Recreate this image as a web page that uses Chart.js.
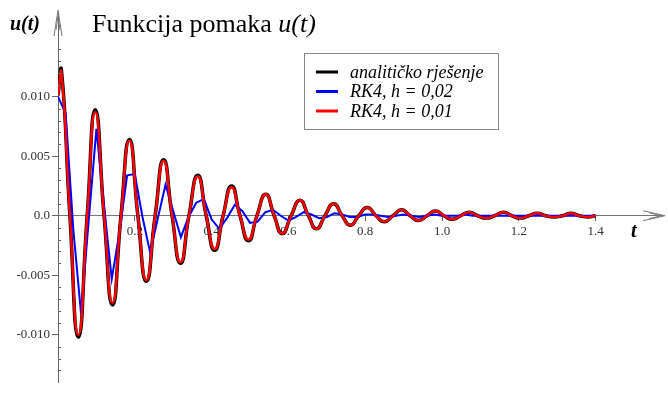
<!DOCTYPE html>
<html>
<head>
<meta charset="utf-8">
<script src="https://cdn.jsdelivr.net/npm/chart.js@4.4.0/dist/chart.umd.min.js"></script>
<style>
  html, body { margin: 0; padding: 0; background: #fff; }
  #wrap { width: 668px; height: 395px; }
</style>
</head>
<body>
<div id="wrap"><canvas id="chart" width="668" height="395"></canvas></div>
<script>
// ekstremi i prolazi kroz nulu, očitano sa slike
const tSmooth = [
  0.000, 0.009, 0.031, 0.053, 0.076, 0.097, 0.120, 0.142, 0.164, 0.186,
  0.208, 0.230, 0.253, 0.275, 0.297, 0.319, 0.341, 0.364, 0.386, 0.408,
  0.430, 0.452, 0.474, 0.496, 0.518, 0.541, 0.563, 0.584, 0.607, 0.630,
  0.652, 0.673, 0.695, 0.718, 0.740, 0.761, 0.783, 0.805, 0.828, 0.850,
  0.872, 0.895, 0.917, 0.939, 0.961, 0.983, 1.005, 1.027, 1.049, 1.071,
  1.093, 1.115, 1.137, 1.160, 1.182, 1.204, 1.226, 1.248, 1.270, 1.292,
  1.314, 1.336, 1.358, 1.381, 1.400
];
const uAnalytic = [
  0.0101, 0.0122, 0, -0.0102, 0, 0.0089, 0, -0.0075, 0, 0.0064,
  0, -0.0055, 0, 0.0047, 0, -0.0040, 0, 0.0034, 0, -0.0029,
  0, 0.0025, 0, -0.0021, 0, 0.0018, 0, -0.0015, 0, 0.0013,
  0, -0.0011, 0, 0.0010, 0, -0.0008, 0, 0.0007, 0, -0.0005,
  0, 0.0005, 0, -0.0004, 0, 0.0004, 0, -0.0003, 0, 0.0003,
  0, -0.0002, 0, 0.0003, 0, -0.0002, 0, 0.0002, 0, -0.0001,
  0, 0.0002, 0, -0.0001, 0
];
const uRk4Fine = [
  0.0101, 0.0120, 0, -0.0100, 0, 0.0087, 0, -0.0073, 0, 0.0063,
  0, -0.0054, 0, 0.0046, 0, -0.0039, 0, 0.0033, 0, -0.0028,
  0, 0.0024, 0, -0.0020, 0, 0.0018, 0, -0.0015, 0, 0.0013,
  0, -0.0011, 0, 0.0010, 0, -0.0008, 0, 0.0007, 0, -0.0005,
  0, 0.0005, 0, -0.0004, 0, 0.0004, 0, -0.0003, 0, 0.0003,
  0, -0.0002, 0, 0.0003, 0, -0.0002, 0, 0.0002, 0, -0.0001,
  0, 0.0002, 0, -0.0001, 0
];

// RK4 s korakom 0,02
const tCoarse = [
  0.00, 0.02, 0.04, 0.06, 0.08, 0.10, 0.12, 0.14, 0.16, 0.18,
  0.20, 0.22, 0.24, 0.26, 0.28, 0.30, 0.32, 0.34, 0.36, 0.38,
  0.40, 0.42, 0.44, 0.46, 0.48, 0.50, 0.52, 0.54, 0.56, 0.58,
  0.60, 0.62, 0.64, 0.66, 0.68, 0.70, 0.72, 0.74, 0.76, 0.78,
  0.80, 0.82, 0.84, 0.86, 0.88, 0.90, 0.92, 0.94, 0.96, 0.98,
  1.00, 1.02, 1.04, 1.06, 1.08, 1.10, 1.12, 1.14, 1.16, 1.18,
  1.20, 1.22, 1.24, 1.26, 1.28, 1.30, 1.32, 1.34, 1.36, 1.38,
  1.40
];
const uRk4Coarse = [
  0.0100, 0.0086, -0.0012, -0.0082, -0.0004, 0.0073, 0.0008, -0.0053, -0.0014, 0.0034,
  0.0035, -0.0001, -0.0031, -0.0002, 0.0026, 0.0004, -0.0018, -0.0001, 0.0011, 0.0014,
  -0.0003, -0.0011, -0.0002, 0.0009, 0.0004, -0.0006, -0.0005, 0.0003, 0.0005, 0.0000,
  -0.0004, -0.0001, 0.0003, 0.0001, -0.0002, -0.0001, 0.0002, 0.0001, -0.0001, -0.0001,
  0.0001, 0.0001, 0.0000, -0.0001, 0.0000, 0.0001, 0.0000, -0.0001, 0.0000, 0.0001,
  0.0000, 0.0000, 0.0000, 0.0001, 0.0000, 0.0000, 0.0000, 0.0000, 0.0000, 0.0000,
  0.0000, 0.0000, 0.0000, 0.0000, 0.0000, 0.0000, 0.0000, 0.0000, 0.0000, 0.0000,
  0.0000
];

const xTicks = [0.2, 0.4, 0.6, 0.8, 1.0, 1.2, 1.4];
const xTickLabels = ['0.2', '0.4', '0.6', '0.8', '1.0', '1.2', '1.4'];
const yTicks = [-0.010, -0.005, 0, 0.005, 0.010];
const yTickLabels = ['-0.010', '-0.005', '0.0', '0.005', '0.010'];
const seriesLabels = ['analitičko rješenje', 'RK4, h = 0,02', 'RK4, h = 0,01'];

const SERIF = '"Liberation Serif", "Times New Roman", serif';

function toPoints(ts, us) {
  return ts.map((t, i) => ({ x: t, y: us[i] }));
}

// strelice, naslov, oznake osi, legenda u okviru
const decor = {
  id: 'decor',
  afterDraw(chart) {
    const ctx = chart.ctx;
    const xs = chart.scales.x, ys = chart.scales.y;
    const x0 = xs.getPixelForValue(0);
    const y0 = ys.getPixelForValue(0);
    const area = chart.chartArea;
    ctx.save();

    // sitne crtice na osi y
    ctx.strokeStyle = '#666';
    ctx.lineWidth = 1;
    for (let k = -13; k <= 16; k++) {
      if (k % 5 === 0) continue;
      const py = Math.round(ys.getPixelForValue(k / 1000)) + 0.5;
      ctx.beginPath();
      ctx.moveTo(x0, py);
      ctx.lineTo(x0 + 3, py);
      ctx.stroke();
    }

    // strelica osi x
    ctx.strokeStyle = '#777';
    ctx.beginPath();
    ctx.moveTo(area.right - 20, y0 - 5);
    ctx.lineTo(area.right + 2, y0);
    ctx.lineTo(area.right - 20, y0 + 5);
    ctx.moveTo(area.right - 14, y0 - 3);
    ctx.lineTo(area.right - 2, y0);
    ctx.lineTo(area.right - 14, y0 + 3);
    ctx.stroke();

    // strelica osi y
    ctx.beginPath();
    ctx.moveTo(x0 - 4, area.top + 24);
    ctx.lineTo(x0, area.top - 2);
    ctx.lineTo(x0 + 4, area.top + 24);
    ctx.moveTo(x0 - 2, area.top + 18);
    ctx.lineTo(x0, area.top + 4);
    ctx.lineTo(x0 + 2, area.top + 18);
    ctx.stroke();

    // naslov
    ctx.fillStyle = '#000';
    ctx.textBaseline = 'alphabetic';
    ctx.textAlign = 'left';
    ctx.font = '26px ' + SERIF;
    const part = 'Funkcija pomaka ';
    ctx.fillText(part, 92, 32);
    const w = ctx.measureText(part).width;
    ctx.font = 'italic 26px ' + SERIF;
    ctx.fillText('u(t)', 92 + w, 32);

    // oznake osi
    ctx.font = 'bold italic 20px ' + SERIF;
    ctx.fillText('u(t)', 10, 30);
    ctx.fillText('t', 631, 237);

    // legenda
    const lx = 304.5, ly = 53.5, lw = 194, lh = 76;
    ctx.fillStyle = '#fff';
    ctx.fillRect(lx, ly, lw, lh);
    ctx.strokeStyle = '#888';
    ctx.lineWidth = 1;
    ctx.strokeRect(lx, ly, lw, lh);
    ctx.font = 'italic 18px ' + SERIF;
    ctx.textBaseline = 'middle';
    chart.data.datasets.forEach((ds, i) => {
      const yy = 72 + i * 19.5;
      ctx.strokeStyle = ds.borderColor;
      ctx.lineWidth = 3;
      ctx.beginPath();
      ctx.moveTo(316, yy);
      ctx.lineTo(338, yy);
      ctx.stroke();
      ctx.fillStyle = '#000';
      ctx.fillText(ds.label, 350, yy + 1);
    });
    ctx.restore();
  }
};

new Chart(document.getElementById('chart'), {
  type: 'line',
  data: {
    datasets: [
      {
        label: seriesLabels[0],
        data: toPoints(tSmooth, uAnalytic),
        borderColor: '#000000',
        borderWidth: 3.5,
        tension: 0.55,
        pointRadius: 0,
        order: 3
      },
      {
        label: seriesLabels[1],
        data: toPoints(tCoarse, uRk4Coarse),
        borderColor: '#0000ff',
        borderWidth: 2,
        tension: 0,
        pointRadius: 0,
        order: 2
      },
      {
        label: seriesLabels[2],
        data: toPoints(tSmooth, uRk4Fine),
        borderColor: '#ff0000',
        borderWidth: 2.5,
        tension: 0.55,
        pointRadius: 0,
        order: 1
      }
    ]
  },
  options: {
    responsive: false,
    animation: false,
    layout: { padding: { left: 0, right: 5, top: 12, bottom: 13 } },
    plugins: {
      legend: { display: false },
      tooltip: { enabled: false },
      title: { display: false }
    },
    scales: {
      x: {
        type: 'linear',
        position: { y: 0 },
        min: 0,
        max: 1.5755,
        afterBuildTicks: (scale) => { scale.ticks = xTicks.map(v => ({ value: v })); },
        ticks: {
          autoSkip: false,
          maxRotation: 0,
          padding: 3,
          color: '#333',
          font: { family: SERIF, size: 13 },
          callback: (v, i) => xTickLabels[i]
        },
        grid: { drawOnChartArea: false, drawTicks: true, tickLength: 5, color: '#666' },
        border: { display: true, color: '#777', width: 1 }
      },
      y: {
        type: 'linear',
        position: 'left',
        min: -0.01397,
        max: 0.01712,
        afterBuildTicks: (scale) => { scale.ticks = yTicks.map(v => ({ value: v })); },
        afterFit: (scale) => { scale.width = 58; },
        ticks: {
          autoSkip: false,
          padding: 2,
          color: '#333',
          font: { family: SERIF, size: 13 },
          callback: (v, i) => yTickLabels[i]
        },
        grid: { drawOnChartArea: false, drawTicks: true, tickLength: 6, color: '#666' },
        border: { display: true, color: '#666', width: 1 }
      }
    }
  },
  plugins: [decor]
});
</script>
</body>
</html>
